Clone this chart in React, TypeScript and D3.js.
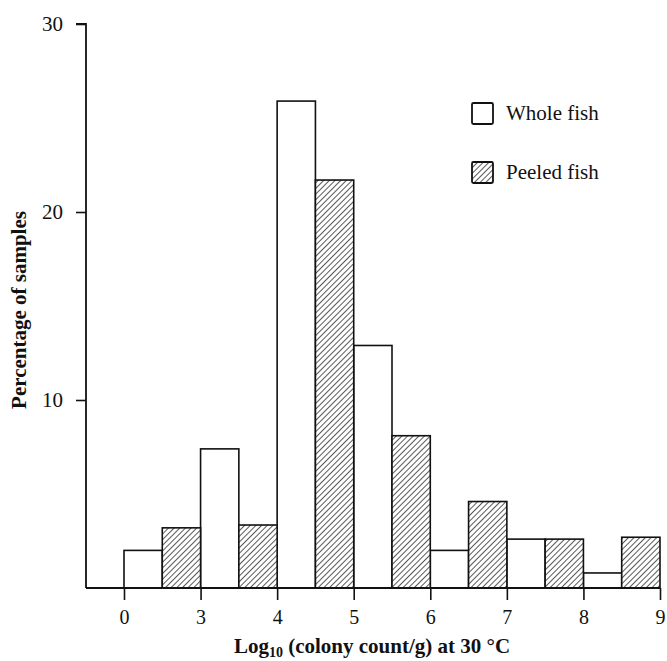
import React, { useRef, useEffect } from 'react'
import * as d3 from 'd3'

// bin edges shown on the x axis (log10 colony count/g)
const tickLabels = ['0', '3', '4', '5', '6', '7', '8', '9']
// percentage of samples per bin
const wholeFish = [2.0, 7.4, 25.9, 12.9, 2.0, 2.6, 0.8]
const peeledFish = [3.2, 3.35, 21.7, 8.1, 4.6, 2.6, 2.7]
const yTicks = [10, 20, 30]

export default function App() {
  const svgRef = useRef<SVGSVGElement>(null)

  useEffect(() => {
    const width = 667
    const height = 661
    const margin = { top: 24, right: 7, bottom: 73, left: 86 }
    const font = '"Liberation Serif", "Times New Roman", serif'

    const svg = d3.select(svgRef.current)
    svg.selectAll('*').remove()
    svg.attr('viewBox', `0 0 ${width} ${height}`)

    const defs = svg.append('defs')
    const pat = defs.append('pattern')
      .attr('id', 'hatch')
      .attr('patternUnits', 'userSpaceOnUse')
      .attr('width', 4)
      .attr('height', 4)
      .attr('patternTransform', 'rotate(45)')
    pat.append('rect').attr('width', 4).attr('height', 4).attr('fill', '#fff')
    pat.append('line')
      .attr('x1', 0).attr('y1', 0).attr('x2', 0).attr('y2', 4)
      .attr('stroke', '#111').attr('stroke-width', 1.4)

    const x = d3.scalePoint<string>()
      .domain(tickLabels)
      .range([124, 660])

    const y = d3.scaleLinear()
      .domain([0, 30])
      .range([height - margin.bottom, margin.top])

    const base = y(0)

    // bars: whole fish in the left half of each bin, peeled in the right half
    const bins = wholeFish.map((w, i) => ({
      x0: x(tickLabels[i])!,
      x1: x(tickLabels[i + 1])!,
      whole: w,
      peeled: peeledFish[i],
    }))

    const g = svg.append('g')

    g.selectAll('rect.whole')
      .data(bins)
      .join('rect')
      .attr('class', 'whole')
      .attr('x', d => d.x0)
      .attr('width', d => (d.x1 - d.x0) / 2)
      .attr('y', d => y(d.whole))
      .attr('height', d => base - y(d.whole))
      .attr('fill', '#fff')
      .attr('stroke', '#111')
      .attr('stroke-width', 1.6)

    g.selectAll('rect.peeled')
      .data(bins)
      .join('rect')
      .attr('class', 'peeled')
      .attr('x', d => (d.x0 + d.x1) / 2)
      .attr('width', d => (d.x1 - d.x0) / 2)
      .attr('y', d => y(d.peeled))
      .attr('height', d => base - y(d.peeled))
      .attr('fill', 'url(#hatch)')
      .attr('stroke', '#111')
      .attr('stroke-width', 1.6)

    // y axis
    const yAxis = svg.append('g')
      .attr('transform', `translate(${margin.left},0)`)
      .call(d3.axisLeft(y).tickValues(yTicks).tickSize(10).tickPadding(13))
    yAxis.select('.domain')
      .attr('d', `M-10,${y(30)}H0V${base}`)
      .attr('stroke', '#111').attr('stroke-width', 1.8)
    yAxis.selectAll('.tick line').attr('stroke', '#111').attr('stroke-width', 1.6)
    yAxis.selectAll('.tick text')
      .attr('fill', '#111')
      .style('font-family', font)
      .style('font-size', '21px')

    // x axis
    const xAxis = svg.append('g')
      .attr('transform', `translate(0,${base})`)
      .call(d3.axisBottom(x).tickSize(12).tickPadding(10))
    xAxis.select('.domain')
      .attr('d', `M${margin.left},0H${x('9')}`)
      .attr('stroke', '#111').attr('stroke-width', 1.8)
    xAxis.selectAll('.tick line').attr('stroke', '#111').attr('stroke-width', 1.6)
    xAxis.selectAll('.tick text')
      .attr('fill', '#111')
      .style('font-family', font)
      .style('font-size', '20px')

    // axis titles
    const xTitle = svg.append('text')
      .attr('x', 372)
      .attr('y', 653)
      .attr('text-anchor', 'middle')
      .attr('fill', '#111')
      .style('font-family', font)
      .style('font-size', '21px')
      .style('font-weight', 'bold')
    xTitle.append('tspan').text('Log')
    xTitle.append('tspan').attr('dy', 4).style('font-size', '14px').text('10')
    xTitle.append('tspan').attr('dy', -4).text(' (colony count/g) at 30 °C')

    svg.append('text')
      .attr('transform', `translate(26,${310}) rotate(-90)`)
      .attr('text-anchor', 'middle')
      .attr('fill', '#111')
      .style('font-family', font)
      .style('font-size', '21px')
      .style('font-weight', 'bold')
      .text('Percentage of samples')

    // legend
    const legend = [
      { label: 'Whole fish', fill: '#fff', y: 103 },
      { label: 'Peeled fish', fill: 'url(#hatch)', y: 162 },
    ]
    const lg = svg.append('g')
    lg.selectAll('rect')
      .data(legend)
      .join('rect')
      .attr('x', 472)
      .attr('y', d => d.y)
      .attr('width', 21)
      .attr('height', 21)
      .attr('rx', 1.5)
      .attr('fill', d => d.fill)
      .attr('stroke', '#111')
      .attr('stroke-width', 1.8)
    lg.selectAll('text')
      .data(legend)
      .join('text')
      .attr('x', 506)
      .attr('y', d => d.y + 17)
      .attr('fill', '#111')
      .style('font-family', font)
      .style('font-size', '21px')
      .text(d => d.label)
  }, [])

  return (
    <svg
      ref={svgRef}
      width={667}
      height={661}
      style={{ position: 'absolute', left: 0, top: 0, background: '#fff' }}
    />
  )
}
